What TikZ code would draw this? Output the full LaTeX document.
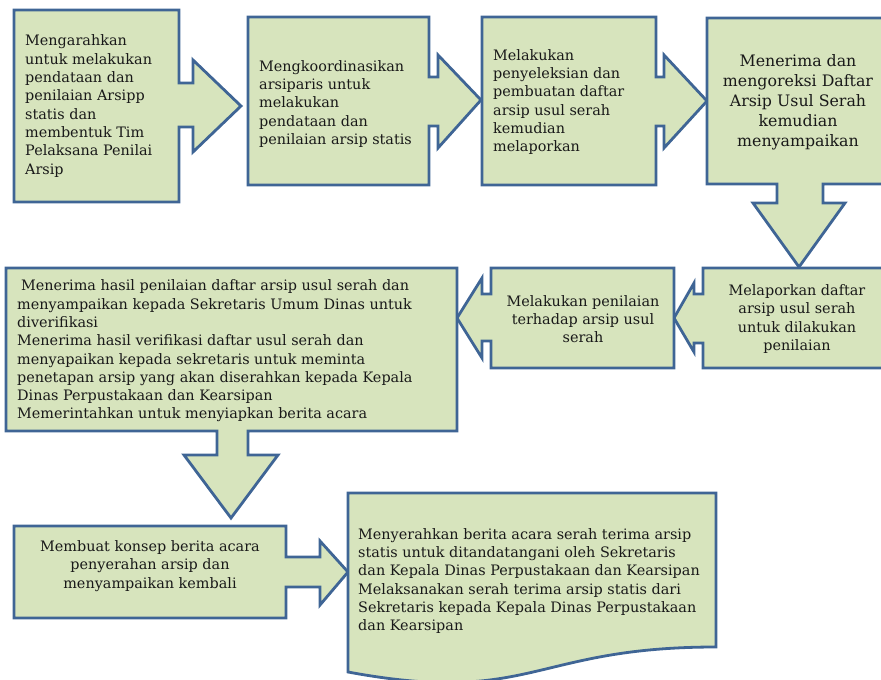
\documentclass[tikz,border=0pt]{standalone}
\usepackage{fontspec}
\setmainfont{DejaVu Serif}
\definecolor{isian}{HTML}{D7E4BD}
\definecolor{garis}{HTML}{3F6595}
\def\teksbiasa{\fontsize{14.4}{18.3}\selectfont}
\def\teksbesar{\fontsize{15.8}{20}\selectfont}

\begin{document}
\begin{tikzpicture}[x=1pt,y=-1pt,
	kotak/.style={fill=isian,draw=garis,line width=2.8pt,line join=miter},
	teks/.style={font=\teksbiasa,text=black!90,inner sep=0pt}]
\useasboundingbox (0,0) rectangle (881,680);
%
% baris atas
\draw[kotak] (14,10) -- (179,10) -- (179,83) -- (193,83) -- (193,60) -- (241,106)
	-- (193,152) -- (193,127) -- (179,127) -- (179,202) -- (14,202) -- cycle;
\node[teks,anchor=west,align=left] (arahkan) at (25,106)
	{Mengarahkan\\untuk melakukan\\pendataan dan\\penilaian Arsipp\\statis dan\\membentuk Tim\\Pelaksana Penilai\\Arsip};
%
\draw[kotak] (248,17) -- (429,17) -- (429,77) -- (438,77) -- (438,55) -- (481,100)
	-- (438,148) -- (438,126) -- (429,126) -- (429,185) -- (248,185) -- cycle;
\node[teks,anchor=west,align=left] (koordinasi) at (259,104)
	{Mengkoordinasikan\\arsiparis untuk\\melakukan\\pendataan dan\\penilaian arsip statis};
%
\draw[kotak] (482,17) -- (656,17) -- (656,77) -- (664,77) -- (664,55) -- (707,101)
	-- (664,148) -- (664,126) -- (656,126) -- (656,185) -- (482,185) -- cycle;
\node[teks,anchor=west,align=left] (seleksi) at (493,102)
	{Melakukan\\penyeleksian dan\\pembuatan daftar\\arsip usul serah\\kemudian\\melaporkan};
%
\draw[kotak] (707,18) -- (892,18) -- (892,184) -- (823,184) -- (823,203) -- (845,203)
	-- (799,267) -- (753,203) -- (777,203) -- (777,184) -- (707,184) -- cycle;
\node[teks,font=\teksbesar,align=center] (koreksi) at (798,102)
	{Menerima dan\\mengoreksi Daftar\\Arsip Usul Serah\\kemudian\\menyampaikan};
%
% baris tengah
\draw[kotak] (892,268) -- (703,268) -- (703,294) -- (694,294) -- (694,283) -- (674,318)
	-- (694,352) -- (694,343) -- (703,343) -- (703,368) -- (892,368) -- cycle;
\node[teks,align=center] (laporkan) at (797,319)
	{Melaporkan daftar\\arsip usul serah\\untuk dilakukan\\penilaian};
%
\draw[kotak] (674,268) -- (491,268) -- (491,294) -- (482,294) -- (482,278) -- (457,318)
	-- (482,358) -- (482,341) -- (491,341) -- (491,368) -- (674,368) -- cycle;
\node[teks,align=center] (nilai) at (583,319)
	{Melakukan penilaian\\terhadap arsip usul\\serah};
%
\draw[kotak] (6,268) -- (457,268) -- (457,431) -- (248,431) -- (248,455) -- (278,455)
	-- (231,518) -- (184,455) -- (217,455) -- (217,431) -- (6,431) -- cycle;
\node[teks,anchor=west,align=left] (verifikasi) at (17,351)
	{\hspace*{4pt}Menerima hasil penilaian daftar arsip usul serah dan\\menyampaikan kepada Sekretaris Umum Dinas untuk\\diverifikasi\\Menerima hasil verifikasi daftar usul serah dan\\menyapaikan kepada sekretaris untuk meminta\\penetapan arsip yang akan diserahkan kepada Kepala\\Dinas Perpustakaan dan Kearsipan\\Memerintahkan untuk menyiapkan berita acara};
%
% baris bawah
\draw[kotak] (14,526) -- (286,526) -- (286,557) -- (320,557) -- (320,541) -- (348,572)
	-- (320,605) -- (320,587) -- (286,587) -- (286,618) -- (14,618) -- cycle;
\node[teks,align=center] (konsep) at (150,566)
	{Membuat konsep berita acara\\penyerahan arsip dan\\menyampaikan kembali};
%
\draw[kotak] (348,493) -- (716,493) -- (716,647)
	.. controls (532,647) and (532,706) .. (348,672) -- cycle;
\node[teks,anchor=west,align=left] (serahkan) at (358,581)
	{Menyerahkan berita acara serah terima arsip\\statis untuk ditandatangani oleh Sekretaris\\dan Kepala Dinas Perpustakaan dan Kearsipan\\Melaksanakan serah terima arsip statis dari\\Sekretaris kepada Kepala Dinas Perpustakaan\\dan Kearsipan};
\end{tikzpicture}
\end{document}
